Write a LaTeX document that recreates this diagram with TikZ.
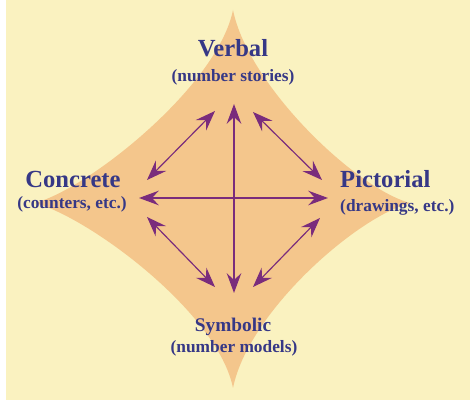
\documentclass[tikz,border=0pt]{standalone}
\usepackage{fontspec}
\setmainfont{Liberation Serif}
\usepackage{tikz}
\usetikzlibrary{arrows.meta}
\definecolor{paper}{HTML}{FAF2C0}
\definecolor{tan1}{HTML}{F4C68C}
\definecolor{ink}{HTML}{363886}
\definecolor{plum}{HTML}{7A2C7C}
\tikzset{
  title/.style={ink,font=\bfseries\fontsize{21}{24}\selectfont,anchor=base,inner sep=0pt},
  sub/.style={ink,font=\bfseries\fontsize{14.8}{17}\selectfont,anchor=base,inner sep=0pt},
  link/.style={plum,line width=1pt,{Stealth[length=17pt,width=12.5pt,inset=6pt]}-{Stealth[length=17pt,width=12.5pt,inset=6pt]}}
}

\begin{document}
\begin{tikzpicture}[x=0.03cm,y=0.03cm]
  % paper, with the thin white strip on the left
  \useasboundingbox (0,0) rectangle (470,400);
  \fill[paper] (6,0) rectangle (470,400);
  % the four-pointed star
  \fill[tan1] (233,390) .. controls (248,315) and (355,212) .. (410,197)
    .. controls (355,182) and (248,87) .. (233,12)
    .. controls (218,87) and (90,182) .. (35,197)
    .. controls (90,212) and (218,315) .. cycle;
  % labels
  \node[title] (verbal) at (233,343) {Verbal};
  \node[sub] (verbalsub) at (233,318) {(number stories)};
  \node[title] (concrete) at (73,212) {Concrete};
  \node[sub] (concretesub) at (72,191) {(counters, etc.)};
  \node[title,anchor=base west] (pictorial) at (340,212) {Pictorial};
  \node[sub,anchor=base west] (pictorialsub) at (340,188) {(drawings, etc.)};
  \node[title,font=\bfseries\fontsize{16.5}{19}\selectfont] (symbolic) at (233,68) {Symbolic};
  \node[sub] (symbolicsub) at (234,47) {(number models)};
  % arrow ends
  \coordinate (vt) at (234,296); \coordinate (vb) at (234,107);
  \coordinate (hl) at (139,202); \coordinate (hr) at (328,202);
  \coordinate (tla) at (215,289); \coordinate (tlb) at (147,220);
  \coordinate (tra) at (253,288); \coordinate (trb) at (322,220);
  \coordinate (bla) at (147,183); \coordinate (blb) at (215,113);
  \coordinate (bra) at (320,182); \coordinate (brb) at (253,113);
  \foreach \a/\b in {vt/vb,hl/hr,tla/tlb,tra/trb,bla/blb,bra/brb} \draw[link] (\a) -- (\b);
\end{tikzpicture}
\end{document}
